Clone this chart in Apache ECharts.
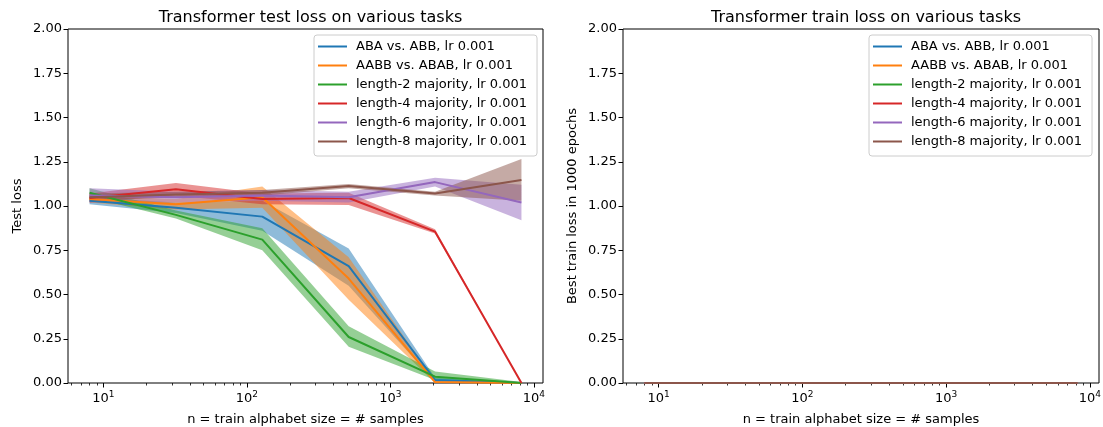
<!DOCTYPE html>
<html><head><meta charset="utf-8">
<script src="https://cdn.jsdelivr.net/npm/echarts@6/dist/echarts.min.js"></script>
<style>html,body{margin:0;padding:0;background:#fff}#c{width:1103px;height:427px}</style>
</head><body><div id="c"></div>
<script>
const samples = [8, 32, 128, 512, 2048, 8192];
const taskNames = ['ABA vs. ABB, lr 0.001','AABB vs. ABAB, lr 0.001','length-2 majority, lr 0.001','length-4 majority, lr 0.001','length-6 majority, lr 0.001','length-8 majority, lr 0.001'];
const taskColors = ['#1f77b4','#ff7f0e','#2ca02c','#d62728','#9467bd','#8c564b'];
// test loss mean / lower / upper
const testMean = [
  [1.03, 0.99, 0.94, 0.66, 0.017, 0.0],
  [1.04, 1.01, 1.05, 0.59, 0.005, 0.0],
  [1.075, 0.95, 0.81, 0.26, 0.036, 0.0],
  [1.045, 1.095, 1.04, 1.045, 0.855, 0.0],
  [1.06, 1.05, 1.06, 1.05, 1.135, 1.02],
  [1.05, 1.065, 1.075, 1.113, 1.07, 1.147]
];
const testLow = [
  [1.01, 0.96, 0.86, 0.55, 0.005, 0.0],
  [1.02, 0.98, 0.99, 0.47, 0.0, 0.0],
  [1.05, 0.93, 0.75, 0.205, 0.017, 0.0],
  [1.02, 1.06, 1.01, 1.005, 0.845, 0.0],
  [1.02, 1.02, 1.03, 1.02, 1.11, 0.92],
  [1.03, 1.05, 1.06, 1.10, 1.06, 1.03]
];
const testHigh = [
  [1.05, 1.02, 1.03, 0.76, 0.03, 0.0],
  [1.06, 1.04, 1.11, 0.71, 0.01, 0.0],
  [1.10, 0.975, 0.875, 0.32, 0.065, 0.005],
  [1.07, 1.13, 1.07, 1.075, 0.868, 0.0],
  [1.10, 1.08, 1.09, 1.08, 1.16, 1.12],
  [1.07, 1.08, 1.09, 1.125, 1.08, 1.265]
];
const trainMean = [
  [0,0,0,0,0,0],[0,0,0,0,0,0],[0,0,0,0,0,0],[0,0,0,0,0,0],[0,0,0,0,0,0],[0,0,0,0,0,0]
];
const majorTicks = [10, 100, 1000, 10000];
const minorTicks = [6,7,8,9,20,30,40,50,60,70,80,90,200,300,400,500,600,700,800,900,2000,3000,4000,5000,6000,7000,8000,9000];

const FONT = 'DejaVu Sans';
const xMin = 5.66, xMax = 11580;
function xFmt(v){
  const e = Math.round(Math.log10(v));
  if (Math.abs(Math.log10(v) - e) > 1e-6) return '';
  return '{b|10}{s|' + e + '}';
}
const rich = {b:{fontFamily:FONT,fontSize:13,color:'#000'}, s:{fontFamily:FONT,fontSize:9,color:'#000',verticalAlign:'top',padding:[0,0,8,0]}};

const grids = [
  {left:68, top:29, width:475, height:354, show:true, borderColor:'#000', borderWidth:1, backgroundColor:'transparent', outerBoundsMode:'none', containLabel:false},
  {left:623, top:29, width:476, height:354, show:true, borderColor:'#000', borderWidth:1, backgroundColor:'transparent', outerBoundsMode:'none', containLabel:false}
];
const xAxes = [], yAxes = [];
[0,1].forEach(g=>{
  xAxes.push({type:'log', logBase:10, gridIndex:g, min:xMin, max:xMax,
    axisLine:{show:false}, splitLine:{show:false},
    axisTick:{show:true, length:4.5, lineStyle:{color:'#000',width:1}, customValues:majorTicks},
    axisLabel:{show:true, customValues:majorTicks, formatter:xFmt, rich:rich, margin:7, color:'#000'},
    name:'n = train alphabet size = # samples', nameLocation:'middle', nameGap:30,
    nameTextStyle:{fontFamily:FONT, fontSize:13, color:'#000'}});
  xAxes.push({type:'log', logBase:10, gridIndex:g, min:xMin, max:xMax, position:'bottom',
    axisLine:{show:false}, splitLine:{show:false}, axisLabel:{show:false},
    axisTick:{show:true, length:2.5, lineStyle:{color:'#000',width:0.8}, customValues:minorTicks}});
  yAxes.push({type:'value', gridIndex:g, min:0, max:2, interval:0.25,
    axisLine:{show:false}, splitLine:{show:false},
    axisTick:{show:true, length:4.5, lineStyle:{color:'#000',width:1}},
    axisLabel:{formatter:v=>v.toFixed(2), fontFamily:FONT, fontSize:13, color:'#000', margin:6},
    name: g===0 ? 'Test loss' : 'Best train loss in 1000 epochs', nameLocation:'middle', nameGap:44,
    nameTextStyle:{fontFamily:FONT, fontSize:13, color:'#000'}});
});

function bandRender(color){
  return function(params, api){
    if (params.dataIndexInside !== 0) return null;
    const n = params.dataInsideLength;
    const up = [], dn = [];
    for (let k = 0; k < n; k++){
      up.push(api.coord([api.value(0,k), api.value(2,k)]));
      dn.push(api.coord([api.value(0,k), api.value(1,k)]));
    }
    const pts = up.concat(dn.reverse());
    return {type:'polygon', shape:{points:pts}, style:{fill:color, opacity:0.5, stroke:null}, silent:true};
  };
}

const series = [];
taskNames.forEach((name,i)=>{
  series.push({type:'custom', name:'band'+i, xAxisIndex:0, yAxisIndex:0,
    data:samples.map((x,k)=>[x, testLow[i][k], testHigh[i][k]]),
    encode:{x:0, y:[1,2]}, renderItem:bandRender(taskColors[i]), clip:true, silent:true, z:2});
  series.push({type:'line', name:name, xAxisIndex:0, yAxisIndex:0,
    data:samples.map((x,k)=>[x, testMean[i][k]]), symbol:'none',
    lineStyle:{color:taskColors[i], width:2}, itemStyle:{color:taskColors[i]}, z:2});
});
taskNames.forEach((name,i)=>{
  series.push({type:'line', name:name, xAxisIndex:2, yAxisIndex:1,
    data:samples.map((x,k)=>[x, trainMean[i][k]]), symbol:'none',
    lineStyle:{color:taskColors[i], width:2}, itemStyle:{color:taskColors[i]}, z:2});
});

const legendBase = {orient:'vertical', top:35, data:taskNames, icon:'rect', itemWidth:29, itemHeight:2,
  itemGap:0, padding:[2,10,5,4], borderColor:'#cccccc', borderWidth:1, borderRadius:3,
  backgroundColor:'rgba(255,255,255,0.8)', selectedMode:false, z:10,
  textStyle:{fontFamily:FONT, fontSize:13, color:'#000', lineHeight:19, padding:[0,0,0,4]}};

const option = {
  animation:false,
  textStyle:{fontFamily:FONT},
  title:[
    {text:'Transformer test loss on various tasks', left:305.5, top:5, textAlign:'center',
     textStyle:{fontFamily:FONT, fontSize:16, fontWeight:'normal', color:'#000'}},
    {text:'Transformer train loss on various tasks', left:861, top:5, textAlign:'center',
     textStyle:{fontFamily:FONT, fontSize:16, fontWeight:'normal', color:'#000'}}
  ],
  grid:grids, xAxis:xAxes, yAxis:yAxes,
  legend:[Object.assign({left:314}, legendBase), Object.assign({left:869}, legendBase)],
  series:series
};
const chart = echarts.init(document.getElementById('c'), null, {renderer:'canvas'});
chart.setOption(option);
</script></body></html>
